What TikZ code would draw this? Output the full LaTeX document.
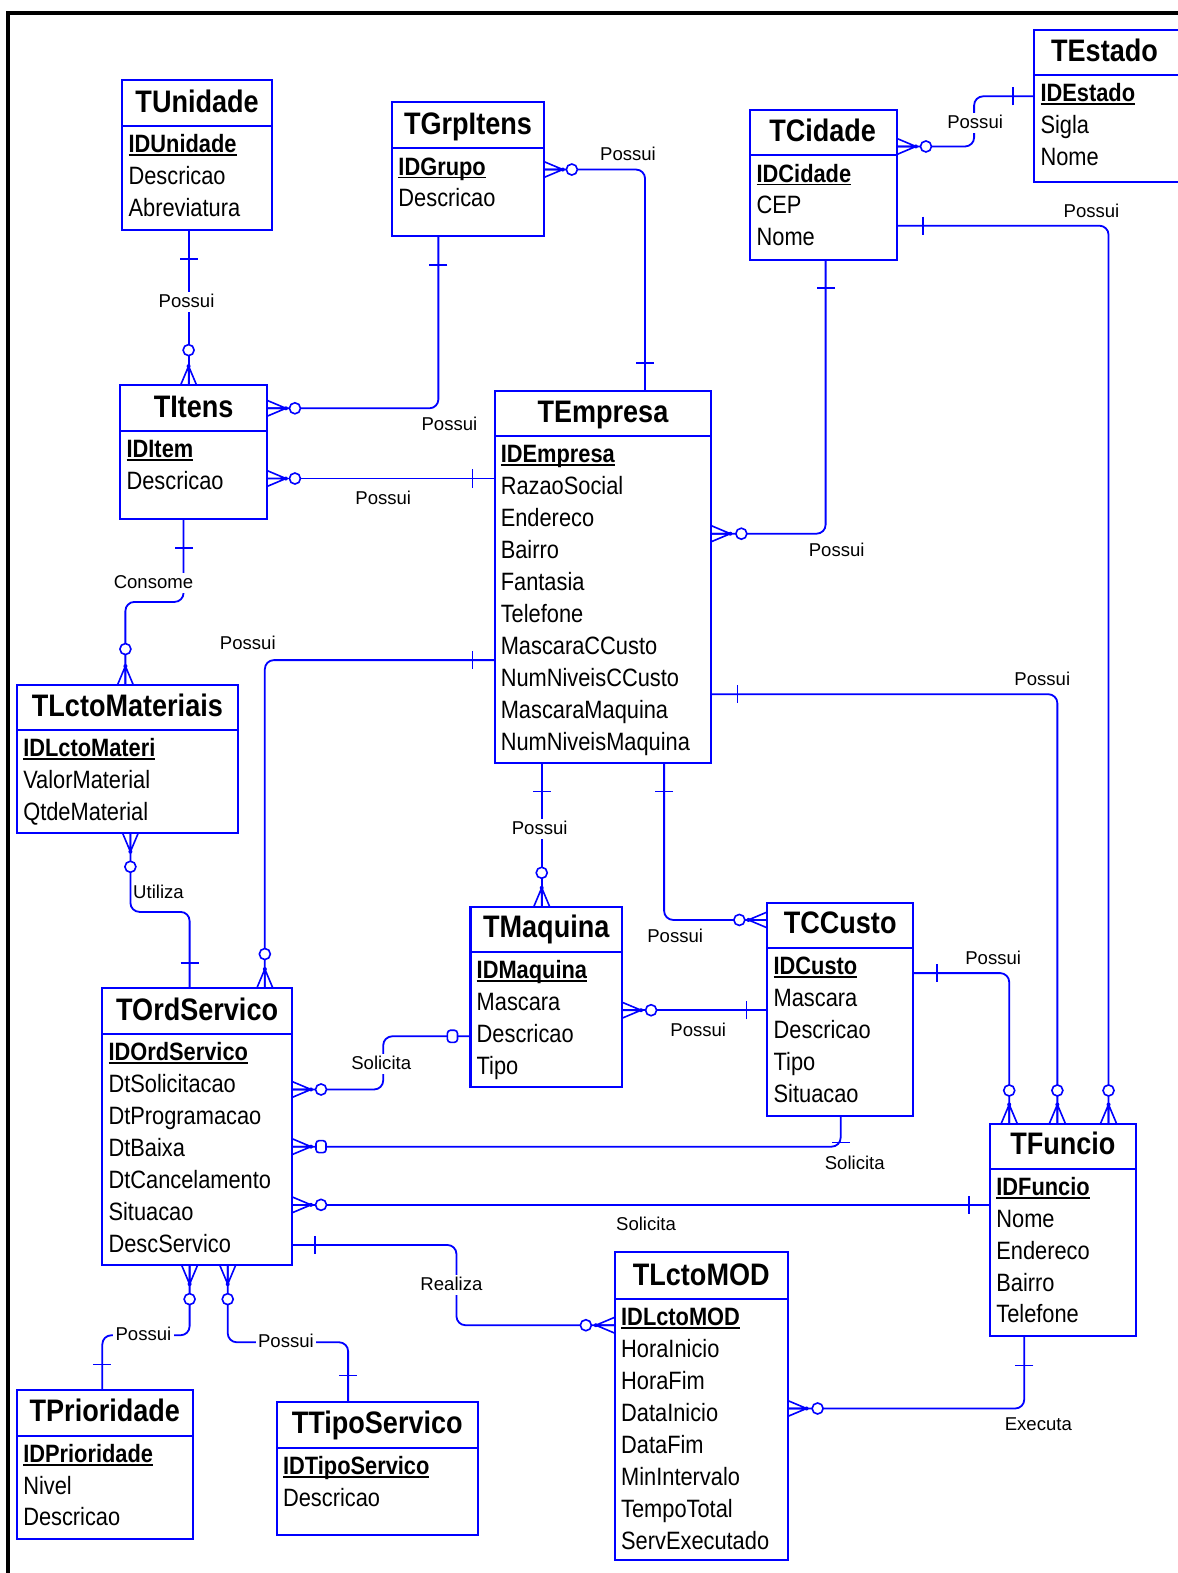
\documentclass[tikz,border=0pt]{standalone}
\usepackage{fontspec}
\setmainfont{Liberation Sans}[FakeStretch=0.87]
\newfontfamily\lblfont{Liberation Sans}
\usetikzlibrary{calc}

% primary key: bold with a heavy underline
\newcommand{\pk}[1]{{\bfseries\setbox0\hbox{#1}\rlap{\vrule height -1.5pt depth 3.4pt width \wd0}\box0}}

\tikzset{
  ebox/.style={draw=blue, line width=2pt, inner sep=0pt, outer sep=0pt},
  eline/.style={draw=blue, line width=2pt},
  etitle/.style={anchor=base, inner sep=0pt, font=\fontsize{31}{36}\selectfont\bfseries},
  attr/.style={anchor=base west, inner sep=0pt, font=\fontsize{25}{30}\selectfont},
  conn/.style={draw=blue, line width=1.8pt, rounded corners=9pt},
  mk/.style={draw=blue, line width=1.6pt},
  lbl/.style={inner sep=2.5pt, text height=13pt, text depth=2pt,
              font=\lblfont\fontsize{18.5}{20}\selectfont},
  % zero-or-many end: crow's foot plus circle
  pics/many/.style={code={
    \draw[mk] (0,8) -- (19,0) -- (0,-8) (0,0) -- (19,0);
    \fill[blue] (19,0) circle (2);
    \draw[mk, fill=white] (#1,0) circle (5.5);
  }},
  % crow's foot plus rounded square
  pics/manysq/.style={code={
    \draw[mk] (0,8) -- (19,0) -- (0,-8) (0,0) -- (19,0);
    \fill[blue] (19,0) circle (2);
    \draw[mk, fill=white, rounded corners=3pt] ({#1-5},-6) rectangle ({#1+5},6);
  }},
  % single rounded square
  pics/zeroone/.style={code={
    \draw[mk, fill=white, rounded corners=3pt] ({#1-5},-6) rectangle ({#1+5},6);
  }},
  % exactly-one bar
  pics/one/.style={code={
    \draw[mk] (#1,-9) -- (#1,9);
  }},
}

% name, left, top, right, header rule, bottom, title x, title, rows
\newcommand{\entity}[9]{%
  \pgfmathsetmacro\ew{#4-#2}\pgfmathsetmacro\eh{#6-#3}%
  \node[ebox, minimum width=\ew pt, minimum height=\eh pt, anchor=north west] (#1) at (#2,#3) {};
  \draw[eline] (#2,#5) -- (#4,#5);
  \node[etitle] (#1-t) at (#7,{#5-14}) {#8};
  \foreach \ea [count=\i from 0] in {#9} {
    \node[attr] (#1-\i) at ({#2+6},{#5+26.5+31.8*\i}) {\ea};
  }%
}

\begin{document}
\begin{tikzpicture}[x=1pt, y=-1pt]
\useasboundingbox (0,0) rectangle (1174,1568);
\fill[white] (0,0) rectangle (1174,1568);
\draw[line width=4pt, black] (8,1572) -- (8,13) -- (1180,13);

% ---------------- tables ----------------
\entity{tunidade}{122}{80}{271}{126}{229}{196.5}{TUnidade}{\pk{IDUnidade},Descricao,Abreviatura}
\entity{tgrp}{391}{102}{542}{148}{235}{466.5}{TGrpItens}{\pk{IDGrupo},Descricao}
\entity{tcidade}{748}{110}{894}{155}{259}{820}{TCidade}{\pk{IDCidade},CEP,Nome}
\entity{testado}{1031}{30}{1182}{75}{181}{1101}{TEstado}{\pk{IDEstado},Sigla,Nome}
\entity{titens}{120}{384}{266}{430}{517}{193}{TItens}{\pk{IDItem},Descricao}
\entity{tempresa}{493}{390}{709}{435}{761}{601}{TEmpresa}{\pk{IDEmpresa},RazaoSocial,Endereco,Bairro,Fantasia,Telefone,MascaraCCusto,NumNiveisCCusto,MascaraMaquina,NumNiveisMaquina}
\entity{tlctomat}{17}{683}{237}{728}{830}{127}{TLctoMateriais}{\pk{IDLctoMateri},ValorMaterial,QtdeMaterial}
\entity{tmaquina}{469}{904}{620}{949}{1084}{544.5}{TMaquina}{\pk{IDMaquina},Mascara,Descricao,Tipo}
\entity{tccusto}{765}{900}{910}{945}{1112}{837.5}{TCCusto}{\pk{IDCusto},Mascara,Descricao,Tipo,Situacao}
\entity{tordserv}{102}{985}{291}{1031}{1261}{196.5}{TOrdServico}{\pk{IDOrdServico},DtSolicitacao,DtProgramacao,DtBaixa,DtCancelamento,Situacao,DescServico}
\entity{tfuncio}{987}{1120}{1132}{1165}{1332}{1059.5}{TFuncio}{\pk{IDFuncio},Nome,Endereco,Bairro,Telefone}
\entity{tlctomod}{613}{1248}{785}{1295}{1555}{699}{TLctoMOD}{\pk{IDLctoMOD},HoraInicio,HoraFim,DataInicio,DataFim,MinIntervalo,TempoTotal,ServExecutado}
\entity{tprior}{17}{1386}{192}{1431}{1534}{104.5}{TPrioridade}{\pk{IDPrioridade},Nivel,Descricao}
\entity{ttipo}{276}{1398}{476}{1443}{1530}{376}{TTipoServico}{\pk{IDTipoServico},Descricao}

% ---------------- relationships ----------------
% TUnidade - TItens
\draw[conn] (tunidade.south -| 188,0) -- (titens.north -| 188,0);
\pic[rotate=-90] at (tunidade.south -| 188,0) {one=29};
\pic[rotate=90] at (titens.north -| 188,0) {many=35};
% TGrpItens - TEmpresa
\draw[conn] (tgrp.east |- 0,169) -| (tempresa.north -| 643,0);
\pic at (tgrp.east |- 0,169) {many=28};
\pic[rotate=90] at (tempresa.north -| 643,0) {one=28};
% TGrpItens - TItens
\draw[conn] (tgrp.south -| 437,0) |- (titens.east |- 0,407);
\pic[rotate=-90] at (tgrp.south -| 437,0) {one=29};
\pic at (titens.east |- 0,407) {many=28};
% TItens - TEmpresa
\draw[conn] (titens.east |- 0,477) -- (tempresa.west |- 0,477);
\pic at (titens.east |- 0,477) {many=28};
\pic[rotate=180] at (tempresa.west |- 0,477) {one=22};
% TItens - TLctoMateriais
\draw[conn] (titens.south -| 183,0) -- (183,600) -- (125,600) -- (tlctomat.north -| 125,0);
\pic[rotate=-90] at (titens.south -| 183,0) {one=29};
\pic[rotate=90] at (tlctomat.north -| 125,0) {many=36};
% TLctoMateriais - TOrdServico
\draw[conn] (tlctomat.south -| 130,0) -- (130,909) -- (189,909) -- (tordserv.north -| 189,0);
\pic[rotate=-90] at (tlctomat.south -| 130,0) {many=34};
\pic[rotate=90] at (tordserv.north -| 189,0) {one=25};
% TEmpresa - TOrdServico
\draw[conn] (tempresa.west |- 0,658) -| (tordserv.north -| 264,0);
\pic[rotate=180] at (tempresa.west |- 0,658) {one=22};
\pic[rotate=90] at (tordserv.north -| 264,0) {many=34};
% TCidade - TEmpresa
\draw[conn] (tcidade.south -| 823,0) |- (tempresa.east |- 0,532);
\pic[rotate=-90] at (tcidade.south -| 823,0) {one=28};
\pic at (tempresa.east |- 0,532) {many=30};
% TCidade - TEstado
\draw[conn] (tcidade.east |- 0,146) -- (971,146) -- (971,96) -- (testado.west |- 0,96);
\pic at (tcidade.east |- 0,146) {many=29};
\pic[rotate=180] at (testado.west |- 0,96) {one=21};
% TCidade - TFuncio
\draw[conn] (tcidade.east |- 0,225) -| (tfuncio.north -| 1105,0);
\pic at (tcidade.east |- 0,225) {one=26};
\pic[rotate=90] at (tfuncio.north -| 1105,0) {many=33};
% TEmpresa - TFuncio
\draw[conn] (tempresa.east |- 0,692) -| (tfuncio.north -| 1054,0);
\pic at (tempresa.east |- 0,692) {one=26};
\pic[rotate=90] at (tfuncio.north -| 1054,0) {many=33};
% TEmpresa - TMaquina
\draw[conn] (tempresa.south -| 540,0) -- (tmaquina.north -| 540,0);
\pic[rotate=-90] at (tempresa.south -| 540,0) {one=28};
\pic[rotate=90] at (tmaquina.north -| 540,0) {many=34};
% TEmpresa - TCCusto
\draw[conn] (tempresa.south -| 662,0) |- (tccusto.west |- 0,917);
\pic[rotate=-90] at (tempresa.south -| 662,0) {one=28};
\pic[rotate=180] at (tccusto.west |- 0,917) {many=28};
% TMaquina - TCCusto
\draw[conn] (tmaquina.east |- 0,1007) -- (tccusto.west |- 0,1007);
\pic at (tmaquina.east |- 0,1007) {many=29};
\pic[rotate=180] at (tccusto.west |- 0,1007) {one=21};
% TCCusto - TFuncio
\draw[conn] (tccusto.east |- 0,970) -| (tfuncio.north -| 1006,0);
\pic at (tccusto.east |- 0,970) {one=24};
\pic[rotate=90] at (tfuncio.north -| 1006,0) {many=33};
% TMaquina - TOrdServico
\draw[conn] (tmaquina.west |- 0,1033) -- (382,1033) -- (382,1086) -- (tordserv.east |- 0,1086);
\pic[rotate=180] at (tmaquina.west |- 0,1033) {zeroone=18};
\pic at (tordserv.east |- 0,1086) {many=29};
% TCCusto - TOrdServico
\draw[conn] (tccusto.south -| 838,0) |- (tordserv.east |- 0,1143);
\pic[rotate=-90] at (tccusto.south -| 838,0) {one=27};
\pic at (tordserv.east |- 0,1143) {manysq=29};
% TFuncio - TOrdServico
\draw[conn] (tfuncio.west |- 0,1201) -- (tordserv.east |- 0,1201);
\pic[rotate=180] at (tfuncio.west |- 0,1201) {one=21};
\pic at (tordserv.east |- 0,1201) {many=29};
% TOrdServico - TLctoMOD
\draw[conn] (tordserv.east |- 0,1241) -- (455,1241) -- (455,1321) -- (tlctomod.west |- 0,1321);
\pic at (tordserv.east |- 0,1241) {one=23};
\pic[rotate=180] at (tlctomod.west |- 0,1321) {many=29};
% TFuncio - TLctoMOD
\draw[conn] (tfuncio.south -| 1021,0) |- (tlctomod.east |- 0,1404);
\pic[rotate=-90] at (tfuncio.south -| 1021,0) {one=29};
\pic at (tlctomod.east |- 0,1404) {many=30};
% TOrdServico - TPrioridade
\draw[conn] (tordserv.south -| 189,0) -- (189,1331) -- (102,1331) -- (tprior.north -| 102,0);
\pic[rotate=-90] at (tordserv.south -| 189,0) {many=34};
\pic[rotate=90] at (tprior.north -| 102,0) {one=26};
% TOrdServico - TTipoServico
\draw[conn] (tordserv.south -| 227,0) -- (227,1338) -- (347,1338) -- (ttipo.north -| 347,0);
\pic[rotate=-90] at (tordserv.south -| 227,0) {many=34};
\pic[rotate=90] at (ttipo.north -| 347,0) {one=27};

% ---------------- relationship names ----------------
\node[lbl, fill=white] (lb1) at (186,301) {Possui};
\node[lbl] (lb2) at (626,154) {Possui};
\node[lbl] (lb3) at (448,424) {Possui};
\node[lbl] (lb4) at (382,497) {Possui};
\node[lbl, fill=white] (lb5) at (153,581) {Consome};
\node[lbl] (lb6) at (158,890) {Utiliza};
\node[lbl] (lb7) at (247,642) {Possui};
\node[lbl] (lb8) at (834,549) {Possui};
\node[lbl, fill=white] (lb9) at (972,123) {Possui};
\node[lbl] (lb10) at (1088,211) {Possui};
\node[lbl] (lb11) at (1039,678) {Possui};
\node[lbl, fill=white] (lb12) at (538,826) {Possui};
\node[lbl] (lb13) at (673,934) {Possui};
\node[lbl] (lb14) at (696,1028) {Possui};
\node[lbl] (lb15) at (990,956) {Possui};
\node[lbl, fill=white] (lb16) at (380,1061) {Solicita};
\node[lbl] (lb17) at (852,1160) {Solicita};
\node[lbl] (lb18) at (644,1221) {Solicita};
\node[lbl, fill=white] (lb19) at (450,1281) {Realiza};
\node[lbl] (lb20) at (1035,1420) {Executa};
\node[lbl, fill=white] (lb21) at (143,1331) {Possui};
\node[lbl, fill=white] (lb22) at (285,1338) {Possui};
\end{tikzpicture}
\end{document}
